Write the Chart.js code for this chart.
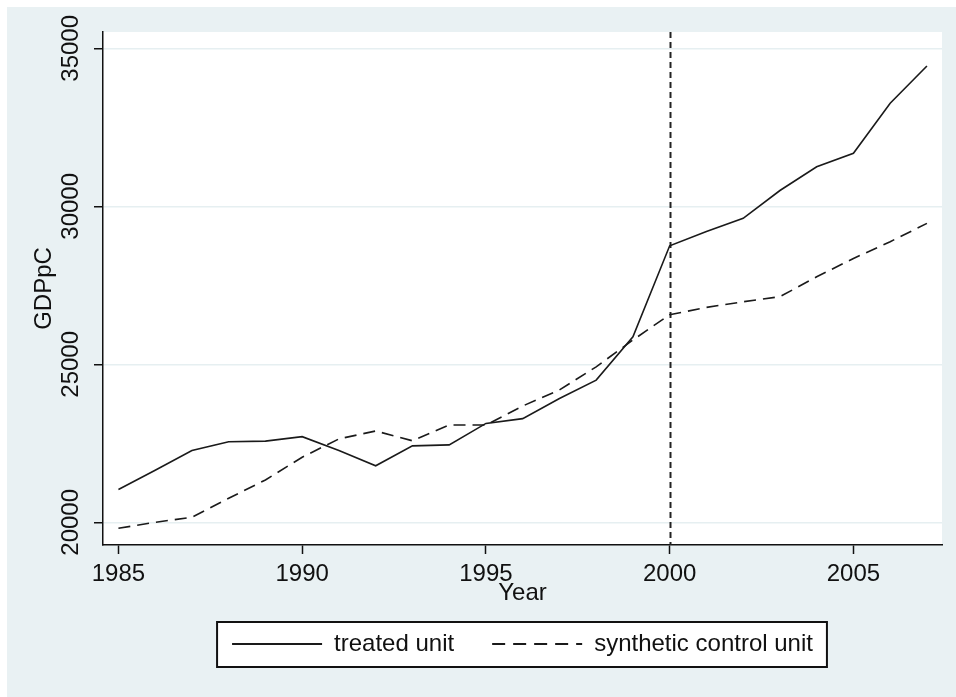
<!DOCTYPE html>
<html>
<head>
<meta charset="utf-8">
<title>GDPpC: treated vs synthetic control</title>
<script src="https://cdn.jsdelivr.net/npm/chart.js@4/dist/chart.umd.min.js"></script>
<style>
  html, body { margin: 0; padding: 0; background: #ffffff; }
  #wrap { width: 956px; height: 697px; }
</style>
</head>
<body>
<div id="wrap"><canvas id="chart" width="956" height="697"></canvas></div>
<script>
// Years observed
const years = [1985, 1986, 1987, 1988, 1989, 1990, 1991, 1992, 1993, 1994, 1995, 1996,
               1997, 1998, 1999, 2000, 2001, 2002, 2003, 2004, 2005, 2006, 2007];

// GDP per capita of the treated unit
const treatedUnit = [21040, 21650, 22270, 22550, 22570, 22710, 22270, 21790, 22420, 22450, 23130, 23280,
                     23920, 24500, 25870, 28750, 29200, 29620, 30500, 31250, 31680, 33260, 34440];

// GDP per capita of the synthetic control unit
const syntheticUnit = [19810, 20000, 20160, 20760, 21340, 22060, 22640, 22890, 22580, 23080, 23080, 23680,
                       24190, 24920, 25770, 26570, 26800, 26980, 27140, 27770, 28350, 28880, 29460];

// Start of the treatment period
const treatmentYear = 2000;

// Axis ticks and labels
const xTickYears = [1985, 1990, 1995, 2000, 2005];
const yTickValues = [20000, 25000, 30000, 35000];
const xTitle = 'Year';
const yTitle = 'GDPpC';
const seriesNames = ['treated unit', 'synthetic control unit'];

const outerBg = '#e9f1f3';
const gridColor = '#e6eff1';
const ink = '#111111';

Chart.defaults.font.family = "'Liberation Sans', Arial, sans-serif";
Chart.defaults.font.size = 24;
Chart.defaults.color = ink;

const toPoints = (vals) => vals.map((v, i) => ({ x: years[i], y: v }));

// Background panels, white plot region and the framed legend box
const backdrop = {
  id: 'backdrop',
  beforeDraw(chart) {
    const { ctx, width, height, chartArea } = chart;
    ctx.save();
    ctx.fillStyle = '#ffffff';
    ctx.fillRect(0, 0, width, height);
    ctx.fillStyle = outerBg;
    ctx.fillRect(7, 7, width - 7, height - 7);
    ctx.fillStyle = '#ffffff';
    ctx.fillRect(chartArea.left, chartArea.top, chartArea.right - chartArea.left, chartArea.bottom - chartArea.top);

    const lg = chart.legend;
    if (lg && lg.legendHitBoxes && lg.legendHitBoxes.length) {
      const hb = lg.legendHitBoxes;
      const first = hb[0], last = hb[hb.length - 1];
      const cy = first.top + first.height / 2;
      const left = first.left - 15;
      const right = last.left + last.width + 14;
      const top = cy - 22;
      const bottom = cy + 23;
      ctx.fillStyle = '#ffffff';
      ctx.fillRect(left, top, right - left, bottom - top);
      ctx.strokeStyle = '#111111';
      ctx.lineWidth = 2;
      ctx.strokeRect(left, top, right - left, bottom - top);
    }
    ctx.restore();
  }
};

// Dotted vertical reference line at the treatment year
const treatmentLine = {
  id: 'treatmentLine',
  beforeDatasetsDraw(chart) {
    const { ctx, chartArea, scales } = chart;
    const x = Math.round(scales.x.getPixelForValue(treatmentYear)) + 0.5;
    ctx.save();
    ctx.strokeStyle = '#222222';
    ctx.lineWidth = 2;
    ctx.setLineDash([6, 4]);
    ctx.beginPath();
    ctx.moveTo(x, chartArea.top);
    ctx.lineTo(x, chartArea.bottom);
    ctx.stroke();
    ctx.restore();
  }
};

new Chart(document.getElementById('chart'), {
  type: 'line',
  data: {
    datasets: [
      {
        label: seriesNames[0],
        data: toPoints(treatedUnit),
        borderColor: '#1a1a1a',
        backgroundColor: '#1a1a1a',
        borderWidth: 1.6,
        pointRadius: 0,
        pointStyle: 'line',
        tension: 0,
        fill: false
      },
      {
        label: seriesNames[1],
        data: toPoints(syntheticUnit),
        borderColor: '#1a1a1a',
        backgroundColor: '#1a1a1a',
        borderWidth: 1.6,
        borderDash: [12, 7],
        pointRadius: 0,
        pointStyle: 'line',
        tension: 0,
        fill: false
      }
    ]
  },
  options: {
    responsive: false,
    animation: false,
    events: [],
    layout: { padding: { top: 32, right: 14, bottom: 31, left: 0 } },
    scales: {
      x: {
        type: 'linear',
        position: 'bottom',
        min: 1984.58,
        max: 2007.41,
        afterBuildTicks: (s) => { s.ticks = xTickYears.map(v => ({ value: v })); },
        afterFit: (s) => { s.height = 49; },
        ticks: {
          color: ink,
          padding: 6,
          maxRotation: 0,
          minRotation: 0,
          autoSkip: false,
          callback: (v) => String(v)
        },
        grid: {
          drawOnChartArea: false,
          drawTicks: true,
          tickLength: 9,
          tickColor: '#111111',
          tickWidth: 1.5
        },
        border: { display: true, color: '#111111', width: 1.5 },
        title: {
          display: true,
          text: xTitle,
          color: ink,
          font: { size: 24 },
          padding: { top: 0, bottom: -14 }
        }
      },
      y: {
        type: 'linear',
        position: 'left',
        min: 19282,
        max: 35516,
        afterBuildTicks: (s) => { s.ticks = yTickValues.map(v => ({ value: v })); },
        afterFit: (s) => { s.width = 103; },
        ticks: {
          color: ink,
          minRotation: 90,
          maxRotation: 90,
          crossAlign: 'center',
          padding: -11,
          autoSkip: false,
          callback: (v) => String(v)
        },
        grid: {
          color: gridColor,
          lineWidth: 1.5,
          drawTicks: true,
          tickLength: 9,
          tickColor: '#111111',
          tickWidth: 1.5
        },
        border: { display: true, color: '#111111', width: 1.5 },
        title: {
          display: true,
          text: yTitle,
          color: ink,
          font: { size: 24 },
          padding: { top: 30, bottom: 0 }
        }
      }
    },
    plugins: {
      legend: {
        display: true,
        position: 'bottom',
        fullSize: false,
        labels: {
          usePointStyle: true,
          pointStyleWidth: 90,
          color: ink,
          font: { size: 24 },
          padding: 38,
          // carry each dataset's dash pattern over to its legend sample line
          generateLabels: (chart) =>
            Chart.defaults.plugins.legend.labels.generateLabels(chart).map((item) => {
              const ds = chart.data.datasets[item.datasetIndex];
              item.lineDash = ds.borderDash ? [13, 8] : [];
              item.lineWidth = 2;
              item.strokeStyle = ds.borderColor;
              return item;
            })
        }
      },
      tooltip: { enabled: false },
      title: { display: false }
    }
  },
  plugins: [backdrop, treatmentLine]
});
</script>
</body>
</html>
